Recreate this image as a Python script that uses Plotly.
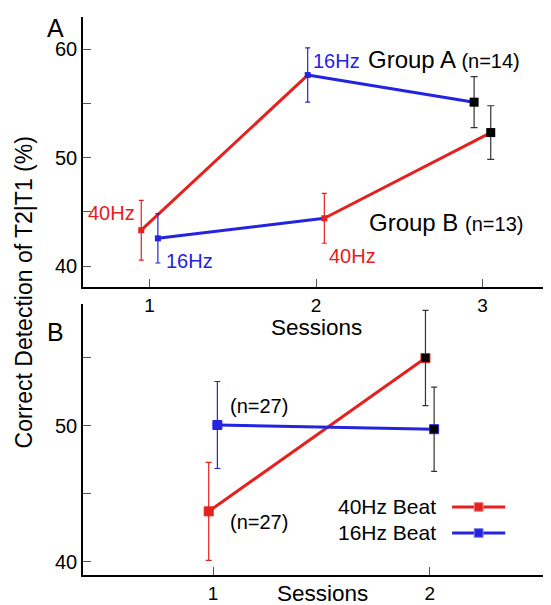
import plotly.graph_objects as go
from plotly.subplots import make_subplots

# ---------------- data ----------------
# Panel A (by group, sessions 1..3)
sessions_a = [1, 2, 3]
group_a_vals = [43.3, 57.6, 55.1]
group_a_err = [2.75, 2.5, 2.35]
group_a_beats = ["40Hz", "16Hz", "post"]
group_b_vals = [42.55, 44.4, 52.3]
group_b_err = [2.27, 2.3, 2.47]
group_b_beats = ["16Hz", "40Hz", "post"]

# Panel B (by beat, sessions 1..2)
sessions_b = [1, 2]
beat40_vals = [43.7, 54.98]
beat40_err = [3.6, 3.5]
beat16_vals = [50.05, 49.74]
beat16_err = [3.2, 3.1]

y_ticks_a = [40, 45, 50, 55, 60]
y_ticklabels_a = ["40", "", "50", "", "60"]
y_ticks_b = [40, 45, 50, 55]
y_ticklabels_b = ["40", "", "50", ""]

# ---------------- style ----------------
RED = "#e4211f"
BLUE = "#2323e0"
BLACK = "#000000"
ERRGRAY = "#333333"
FONT = "Liberation Sans, Arial, sans-serif"
COL = {"40Hz": RED, "16Hz": BLUE, "post": BLACK}
ECOL = {"40Hz": RED, "16Hz": BLUE, "post": ERRGRAY}
OFF_A, OFF_B = -0.05, 0.05
OFF40, OFF16 = -0.02, 0.02

fig = make_subplots(rows=2, cols=1, vertical_spacing=0.0)

def add_group(xs, vals, errs, beats, row):
    # line segments coloured by the beat of the starting session
    for i in range(len(xs) - 1):
        fig.add_trace(go.Scatter(x=[xs[i], xs[i + 1]], y=[vals[i], vals[i + 1]],
                                 mode="lines", line=dict(color=COL[beats[i]], width=3),
                                 showlegend=False, hoverinfo="skip"), row=row, col=1)
    for i in range(len(xs)):
        big = beats[i] == "post"
        fig.add_trace(go.Scatter(x=[xs[i]], y=[vals[i]], mode="markers",
                                 marker=dict(symbol="square", size=9 if big else 6,
                                             color=COL[beats[i]], line=dict(width=0)),
                                 error_y=dict(type="data", array=[errs[i]], color=ECOL[beats[i]],
                                              thickness=1.2, width=3.5 if big else 2.5),
                                 showlegend=False), row=row, col=1)

add_group([s + OFF_A for s in sessions_a], group_a_vals, group_a_err, group_a_beats, 1)
add_group([s + OFF_B for s in sessions_a], group_b_vals, group_b_err, group_b_beats, 1)

# Panel B
def add_beat(xs, vals, errs, color):
    fig.add_trace(go.Scatter(x=xs, y=vals, mode="lines", line=dict(color=color, width=3),
                             showlegend=False, hoverinfo="skip"), row=2, col=1)
    fills = [color, BLACK]
    ecols = [color, ERRGRAY]
    for i in range(len(xs)):
        fig.add_trace(go.Scatter(x=[xs[i]], y=[vals[i]], mode="markers",
                                 marker=dict(symbol="square", size=9, color=fills[i],
                                             line=dict(width=1, color=color)),
                                 error_y=dict(type="data", array=[errs[i]], color=ecols[i],
                                              thickness=1.2, width=3),
                                 showlegend=False), row=2, col=1)

add_beat([s + OFF40 for s in sessions_b], beat40_vals, beat40_err, RED)
add_beat([s + OFF16 for s in sessions_b], beat16_vals, beat16_err, BLUE)

axis_common = dict(showline=True, linecolor="black", linewidth=1.5, ticks="inside",
                   ticklen=8, tickcolor="#555", tickwidth=1, showgrid=False, zeroline=False,
                   tickfont=dict(family=FONT, size=20, color="black"))
x_common = dict(axis_common, tickfont=dict(family=FONT, size=19, color="black"))

fig.update_xaxes(range=[0.6, 3.4], tickvals=sessions_a, row=1, col=1, **x_common)
fig.update_xaxes(range=[0.4, 2.55], tickvals=sessions_b, row=2, col=1, **x_common)
fig.update_yaxes(range=[38.06, 62.95], tickvals=y_ticks_a, ticktext=y_ticklabels_a,
                 row=1, col=1, **axis_common)
fig.update_yaxes(range=[39.02, 58.95], tickvals=y_ticks_b, ticktext=y_ticklabels_b,
                 row=2, col=1, **axis_common)

# page body has an 8px margin; size the figure so it fits the 551x605 window
fig.update_layout(
    width=543, height=597,
    margin=dict(l=75, r=2, t=9, b=30),
    paper_bgcolor="white", plot_bgcolor="white",
    font=dict(family=FONT, color="black"),
    xaxis=dict(domain=[0, 1]), yaxis=dict(domain=[0.516, 1.0]),
    xaxis2=dict(domain=[0, 1]), yaxis2=dict(domain=[0.0, 0.4857]),
    showlegend=False,
)

ann = []
def txt(text, x, y, xref, yref, color="black", size=20, xanchor="left", angle=0):
    ann.append(dict(text=text, x=x, y=y, xref=xref, yref=yref, showarrow=False,
                    xanchor=xanchor, yanchor="middle", textangle=angle,
                    font=dict(family=FONT, size=size, color=color)))

txt("40Hz", 0.922, 44.88, "x", "y", RED, 20, "right")
txt("16Hz", 1.086, 40.46, "x", "y", BLUE, 20)
txt("16Hz", 1.97, 58.92, "x", "y", BLUE, 20)
txt("40Hz", 2.064, 40.95, "x", "y", RED, 20)
txt("Group A <span style='font-size:20px'>(n=14)</span>", 2.301, 58.99, "x", "y", "black", 24)
txt("Group B <span style='font-size:20px'>(n=13)</span>", 2.305, 44.03, "x", "y", "black", 24)
txt("(n=27)", 1.068, 51.45, "x2", "y2", "black", 20)
txt("(n=27)", 1.068, 42.94, "x2", "y2", "black", 20)
txt("40Hz Beat", 2.04, 44.04, "x2", "y2", "black", 21, "right")
txt("16Hz Beat", 2.04, 42.16, "x2", "y2", "black", 21, "right")
txt("A", -0.058, 0.980, "paper", "paper", "black", 25, "center")
txt("B", -0.058, 0.4355, "paper", "paper", "black", 25, "center")
txt("Sessions", 0.5, 0.4435, "paper", "paper", "black", 22.5, "center")
txt("Sessions", 0.513, -0.033, "paper", "paper", "black", 22.5, "center")
txt("Correct Detection of T2|T1 (%)", -0.127, 0.506, "paper", "paper", "black", 23, "center", -90)
fig.update_layout(annotations=ann)

# legend samples (line + square) drawn as shapes in panel-B domain coords
shapes = []
for yy, c in [(0.251, RED), (0.155, BLUE)]:
    shapes.append(dict(type="line", xref="x2 domain", yref="y2 domain",
                       x0=0.792, x1=0.906, y0=yy, y1=yy, line=dict(color=c, width=3)))
    shapes.append(dict(type="rect", xref="x2 domain", yref="y2 domain",
                       x0=0.849 - 0.0095, x1=0.849 + 0.0095, y0=yy - 0.016, y1=yy + 0.016,
                       fillcolor=c, line=dict(color="#f08080" if c == RED else "#8080f0", width=1)))
fig.update_layout(shapes=shapes)

fig.write_html("out.html")
